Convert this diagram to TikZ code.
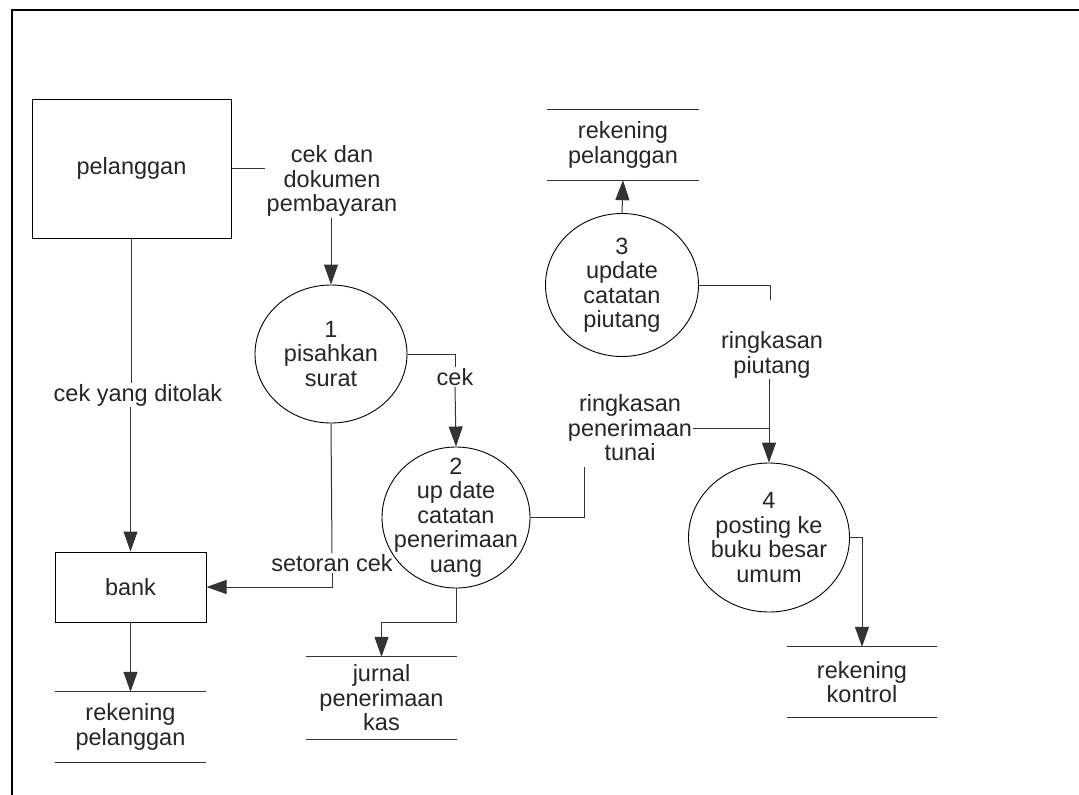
\documentclass[tikz,border=0pt]{standalone}
\usepackage{fontspec}
\setmainfont{Liberation Sans}
\usetikzlibrary{shapes.geometric,arrows.meta}
\begin{document}
\begin{tikzpicture}[x=1pt,y=-1pt,
  every node/.style={font=\fontsize{23.5}{24.5}\selectfont, align=center, inner sep=2pt, text=black!85},
  ent/.style={draw, line width=1pt, inner sep=0pt},
  proc/.style={draw, ellipse, line width=0.9pt, inner sep=0pt},
  store/.style={inner sep=0pt},
  flow/.style={line width=1pt, draw=black!80},
  arr/.style={flow, -{Triangle[length=20pt,width=14pt]}},
  lbl/.style={inner sep=1pt}
]
\useasboundingbox (0,0) rectangle (1079,795);
\fill[white] (0,0) rectangle (1079,795);
\draw[line width=2pt] (12,795) -- (12,10) -- (1079,10);

% entities
\node[ent, minimum width=199pt, minimum height=139pt] (p) at (131.5,168.5) {pelanggan};
\node[ent, minimum width=151pt, minimum height=70pt] (bank) at (130.5,587) {bank};

% processes
\node[proc, minimum width=152pt, minimum height=138pt] (c1) at (331,354) {};
\node (c1t) at (c1) {1\\pisahkan\\surat};
\node[proc, minimum width=148pt, minimum height=141pt] (c2) at (456,517.5) {};
\node (c2t) at (c2) {2\\up date\\catatan\\penerimaan\\uang};
\node[proc, minimum width=153pt, minimum height=143pt] (c3) at (622,285) {};
\node (c3t) at (c3) {3\\update\\catatan\\piutang};
\node[proc, minimum width=161pt, minimum height=149pt] (c4) at (769,537.5) {};
\node (c4t) at (c4) {4\\posting ke\\buku besar\\umum};

% stores
\node[store, minimum width=151pt, minimum height=70pt] (s1) at (130.5,727) {rekening\\pelanggan};
\node[store, minimum width=151pt, minimum height=82pt] (j) at (381.5,698) {jurnal\\penerimaan\\kas};
\node[store, minimum width=152pt, minimum height=70pt] (s2) at (623,145) {rekening\\pelanggan};
\node[store, minimum width=150pt, minimum height=70pt] (k) at (862,682) {rekening\\kontrol};
\foreach \s in {s1,j,s2,k}{
  \draw[flow] (\s.north west) -- (\s.north east) (\s.south west) -- (\s.south east);
}

% labels
\node[lbl] (cdp) at (332,181) {cek dan\\dokumen\\pembayaran};
\node[lbl] (cek) at (455,377) {cek};
\node[lbl] (yt) at (138,395) {cek yang ditolak};
\node[lbl] (sc) at (332,563) {setoran cek};
\node[lbl] (rpt) at (630,428) {ringkasan\\penerimaan\\tunai};
\node[lbl] (rp) at (772,355) {ringkasan\\piutang};

\coordinate (cdpin) at (265,168.5);
\coordinate (rptin) at (584,467);
\coordinate (rpin) at (770,300);

% flows
\draw[flow] (p.east) -- (cdpin);
\draw[arr] (cdp.south -| c1.north) -- (c1.north);
\draw[flow] (c1.east) -| (cek.north);
\draw[arr] (cek.south) -- (c2.north);
\draw[flow] (c1.south) -- (sc.north);
\draw[arr] (sc.south) |- (bank.east);
\draw[flow] (p.south) -- (p.south |- yt.north);
\draw[arr] (bank.north |- yt.south) -- (bank.north);
\draw[arr] (bank.south) -- (s1.north);
\draw[arr] (c2.south) -- ++(0,34) -| (j.north);
\draw[flow] (c2.east) -| (rptin);
\draw[flow] (rpt.east) -- (rpt.east -| c4.north);
\draw[arr] (c3.north) -- (s2.south);
\draw[flow] (c3.east) -| (rpin);
\draw[arr] (rp.south -| c4.north) -- (c4.north);
\draw[arr] (c4.east) -| (k.north);
\end{tikzpicture}
\end{document}
